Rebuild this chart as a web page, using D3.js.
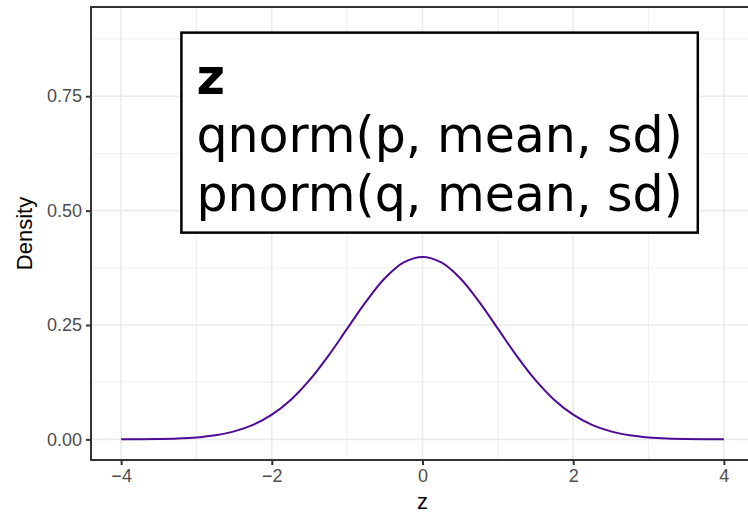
<!DOCTYPE html>
<html>
<head>
<meta charset="utf-8">
<script src="https://cdn.jsdelivr.net/npm/d3@7"></script>
<style>
  html, body { margin: 0; padding: 0; background: #fff; }
  svg { display: block; }
</style>
</head>
<body>
<svg id="chart" width="748" height="514"></svg>
<script>
// Standard normal density, sampled every 0.25 on z
const zValues = [-4, -3.75, -3.5, -3.25, -3, -2.75, -2.5, -2.25, -2, -1.75, -1.5, -1.25, -1, -0.75, -0.5, -0.25,
  0, 0.25, 0.5, 0.75, 1, 1.25, 1.5, 1.75, 2, 2.25, 2.5, 2.75, 3, 3.25, 3.5, 3.75, 4];
const densityValues = [0.0001, 0.0004, 0.0009, 0.0020, 0.0044, 0.0091, 0.0175, 0.0317, 0.0540, 0.0863, 0.1295, 0.1826, 0.2420, 0.3011, 0.3521, 0.3867,
  0.3989, 0.3867, 0.3521, 0.3011, 0.2420, 0.1826, 0.1295, 0.0863, 0.0540, 0.0317, 0.0175, 0.0091, 0.0044, 0.0020, 0.0009, 0.0004, 0.0001];

const xTicks = [-4, -2, 0, 2, 4];
const xMinor = [-3, -1, 1, 3];
const yTicks = [0, 0.25, 0.5, 0.75];
const yMinor = [0.125, 0.375, 0.625, 0.875];
const yTickLabels = ["0.00", "0.25", "0.50", "0.75"];

const labelLines = ["z", "qnorm(p, mean, sd)", "pnorm(q, mean, sd)"];
const labelAnchor = { x: -3.2, y: 0.889 };

const xDomain = [-4.4, 4.4];
const yDomain = [-0.045, 0.945];

const svg = d3.select("#chart");
const panel = { left: 91, top: 7, right: 754, bottom: 460 };

const x = d3.scaleLinear().domain(xDomain).range([panel.left, panel.right]);
const y = d3.scaleLinear().domain(yDomain).range([panel.bottom, panel.top]);

const g = svg.append("g");

// grid
g.selectAll(".xminor").data(xMinor).join("line")
  .attr("x1", d => x(d)).attr("x2", d => x(d))
  .attr("y1", panel.top).attr("y2", panel.bottom)
  .attr("stroke", "#EBEBEB").attr("stroke-width", 0.8);
g.selectAll(".yminor").data(yMinor).join("line")
  .attr("y1", d => y(d)).attr("y2", d => y(d))
  .attr("x1", panel.left).attr("x2", panel.right)
  .attr("stroke", "#EBEBEB").attr("stroke-width", 0.8);
g.selectAll(".xmajor").data(xTicks).join("line")
  .attr("x1", d => x(d)).attr("x2", d => x(d))
  .attr("y1", panel.top).attr("y2", panel.bottom)
  .attr("stroke", "#EBEBEB").attr("stroke-width", 1.6);
g.selectAll(".ymajor").data(yTicks).join("line")
  .attr("y1", d => y(d)).attr("y2", d => y(d))
  .attr("x1", panel.left).attr("x2", panel.right)
  .attr("stroke", "#EBEBEB").attr("stroke-width", 1.6);

// density curve
const line = d3.line()
  .x((d, i) => x(zValues[i]))
  .y(d => y(d))
  .curve(d3.curveCatmullRom.alpha(0.5));
g.append("path")
  .datum(densityValues)
  .attr("d", line)
  .attr("fill", "none")
  .attr("stroke", "#4F0A96")
  .attr("stroke-width", 2);

// panel border
g.append("rect")
  .attr("x", panel.left).attr("y", panel.top)
  .attr("width", panel.right - panel.left).attr("height", panel.bottom - panel.top)
  .attr("fill", "none").attr("stroke", "#333333").attr("stroke-width", 2);

// axes
const xAxis = d3.axisBottom(x).tickValues(xTicks).tickSize(5).tickPadding(4)
  .tickFormat(d => d < 0 ? "\u2212" + Math.abs(d) : String(d));
const yAxis = d3.axisLeft(y).tickValues(yTicks).tickSize(5).tickPadding(4)
  .tickFormat((d, i) => yTickLabels[i]);

const gx = svg.append("g").attr("transform", `translate(0,${panel.bottom})`).call(xAxis);
const gy = svg.append("g").attr("transform", `translate(${panel.left},0)`).call(yAxis);
[gx, gy].forEach(a => {
  a.select(".domain").remove();
  a.selectAll(".tick line").attr("stroke", "#333333").attr("stroke-width", 2);
  a.selectAll(".tick text")
    .attr("fill", "#4D4D4D")
    .style("font-family", "'Liberation Sans', Arial, sans-serif")
    .style("font-size", "18px");
});

// axis titles
svg.append("text")
  .attr("x", x(0)).attr("y", 509)
  .attr("text-anchor", "middle")
  .style("font-family", "'Liberation Sans', Arial, sans-serif")
  .style("font-size", "22px")
  .text("z");
svg.append("text")
  .attr("transform", `translate(32,${(panel.top + panel.bottom) / 2}) rotate(-90)`)
  .attr("text-anchor", "middle")
  .style("font-family", "'Liberation Sans', Arial, sans-serif")
  .style("font-size", "22px")
  .text("Density");

// label box
const fontSize = 49;
const pad = 15;
const lineHeight = 58.5;
const bx = x(labelAnchor.x), by = y(labelAnchor.y);
const label = svg.append("g");
const box = label.append("rect")
  .attr("fill", "#fff").attr("stroke", "#000").attr("stroke-width", 2.5);
const texts = label.selectAll("text").data(labelLines).join("text")
  .attr("x", bx + pad)
  .attr("y", (d, i) => by + 61 + i * lineHeight)
  .style("font-family", "'DejaVu Sans', Verdana, sans-serif")
  .style("font-size", fontSize + "px")
  .style("font-weight", (d, i) => i === 0 ? "bold" : "normal")
  .attr("fill", "#000")
  .text(d => d);
let maxW = 0;
texts.each(function () { maxW = Math.max(maxW, this.getComputedTextLength()); });
box.attr("x", bx).attr("y", by)
  .attr("width", maxW + 2 * pad)
  .attr("height", 61 + 2 * lineHeight + 22);
</script>
</body>
</html>
